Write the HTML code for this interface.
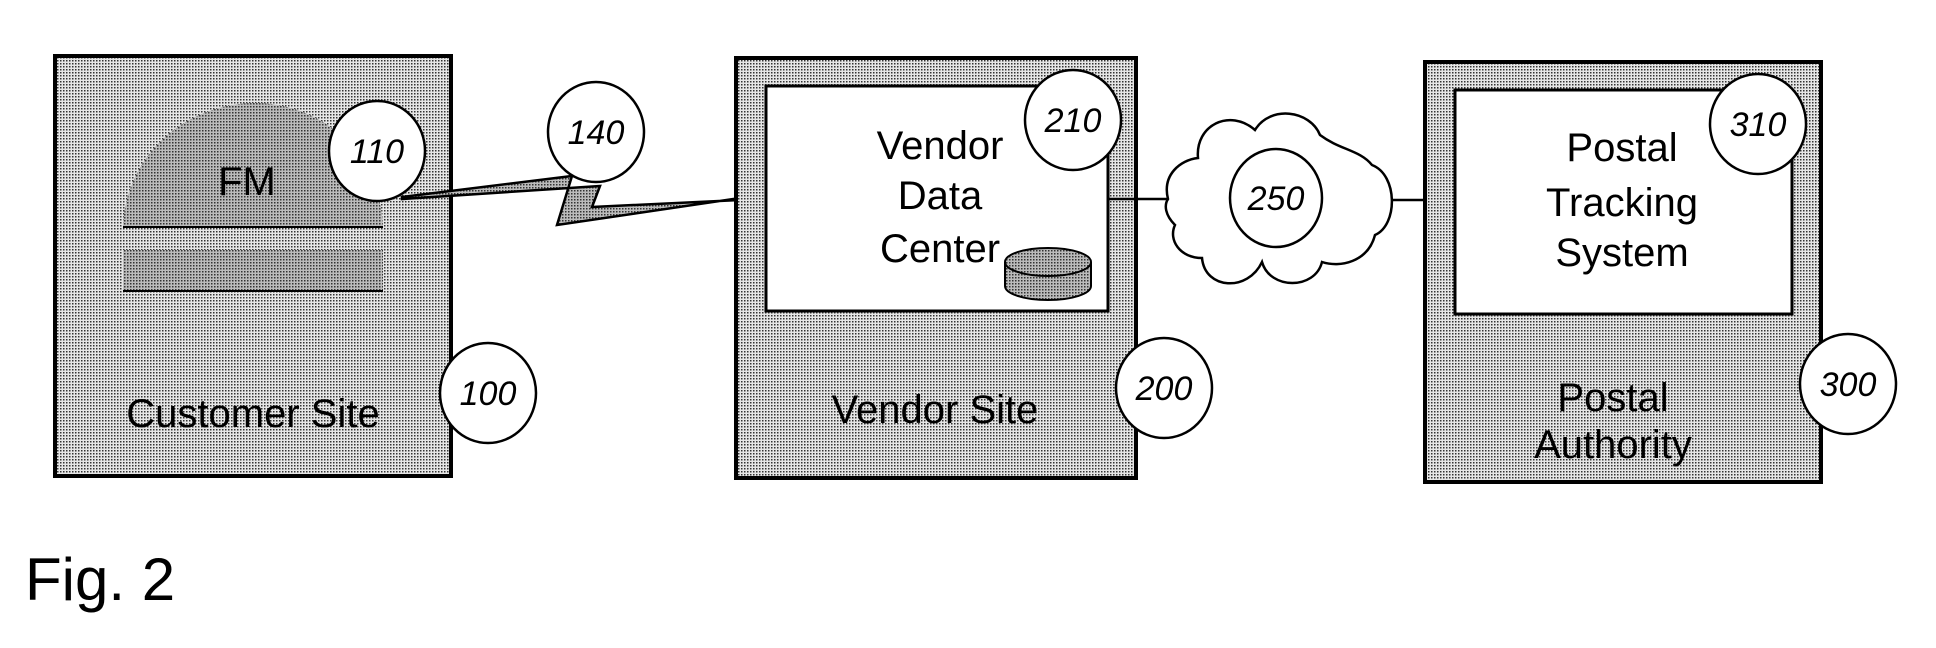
<!DOCTYPE html>
<html><head><meta charset="utf-8"><style>
html,body{margin:0;padding:0;background:#fff;}
svg{display:block;}
text{font-family:"Liberation Sans",sans-serif;fill:#000;}
.n{font-style:italic;font-size:34px;}
.l{font-size:40px;}
</style></head><body>
<svg width="1936" height="648" viewBox="0 0 1936 648" xmlns="http://www.w3.org/2000/svg">
<defs>
<pattern id="dots" width="3" height="3" patternUnits="userSpaceOnUse">
<rect width="3" height="3" fill="#e6e6e6"/><rect width="1.5" height="1.5" fill="#333"/>
</pattern>
<pattern id="fine" width="3" height="3" patternUnits="userSpaceOnUse">
<rect width="3" height="3" fill="#bbb"/><rect x="1" y="1" width="1.5" height="1.5" fill="#333"/>
</pattern>
</defs>

<!-- Customer site -->
<rect x="55" y="56" width="396" height="420" fill="url(#dots)" stroke="#000" stroke-width="4"/>
<path d="M123 227 C125 160 180 104 255 103 C330 104 380 160 383 227 Z" fill="url(#fine)"/>
<line x1="123" y1="227" x2="383" y2="227" stroke="#000" stroke-width="2"/>
<rect x="123" y="250" width="260" height="41" fill="url(#fine)"/>
<line x1="123" y1="291" x2="383" y2="291" stroke="#000" stroke-width="2"/>
<text x="247" y="195" class="l" text-anchor="middle">FM</text>
<text x="253" y="427" class="l" text-anchor="middle">Customer Site</text>
<ellipse cx="377" cy="151" rx="48" ry="50" fill="#fff" stroke="#000" stroke-width="2.5"/>
<text x="377" y="163" class="n" text-anchor="middle">110</text>
<ellipse cx="488" cy="393" rx="48" ry="50" fill="#fff" stroke="#000" stroke-width="2.5"/>
<text x="488" y="405" class="n" text-anchor="middle">100</text>

<!-- lightning -->
<polygon points="402,197 572,176 557,225 740,198 765,198 740,200 592,207 600,186 402,199" fill="url(#fine)" stroke="#000" stroke-width="2.5"/>
<ellipse cx="596" cy="132" rx="48" ry="50" fill="#fff" stroke="#000" stroke-width="2.5"/>
<text x="596" y="144" class="n" text-anchor="middle">140</text>

<!-- Vendor site -->
<rect x="736" y="58" width="400" height="420" fill="url(#dots)" stroke="#000" stroke-width="4"/>
<rect x="766" y="86" width="342" height="225" fill="#fff" stroke="#000" stroke-width="3"/>
<text x="940" y="159" class="l" text-anchor="middle">Vendor</text>
<text x="940" y="209" class="l" text-anchor="middle">Data</text>
<text x="940" y="262" class="l" text-anchor="middle">Center</text>
<path d="M1005 262 L1005 286 A43 14 0 0 0 1091 286 L1091 262" fill="url(#fine)" stroke="#000" stroke-width="2"/>
<ellipse cx="1048" cy="262" rx="43" ry="14" fill="url(#fine)" stroke="#000" stroke-width="2"/>
<ellipse cx="1073" cy="120" rx="48" ry="50" fill="#fff" stroke="#000" stroke-width="2.5"/>
<text x="1073" y="132" class="n" text-anchor="middle">210</text>
<text x="935" y="423" class="l" text-anchor="middle">Vendor Site</text>
<ellipse cx="1164" cy="388" rx="48" ry="50" fill="#fff" stroke="#000" stroke-width="2.5"/>
<text x="1164" y="400" class="n" text-anchor="middle">200</text>

<!-- cloud -->
<line x1="1108" y1="199" x2="1168" y2="199" stroke="#000" stroke-width="2.5"/>
<line x1="1393" y1="200" x2="1455" y2="200" stroke="#000" stroke-width="2.5"/>
<path d="M1168 199 C1162 175 1180 160 1198 158 C1195 125 1230 108 1255 130 C1270 105 1310 110 1320 135 C1340 150 1360 150 1372 165 C1398 175 1398 225 1375 235 C1368 262 1340 268 1322 262 C1315 290 1270 290 1262 262 C1248 292 1205 290 1202 258 C1180 258 1168 240 1175 225 C1165 215 1164 205 1168 199 Z" fill="#fff" stroke="#000" stroke-width="2.5"/>
<ellipse cx="1276" cy="198" rx="46" ry="49" fill="#fff" stroke="#000" stroke-width="2.5"/>
<text x="1276" y="210" class="n" text-anchor="middle">250</text>

<!-- Postal -->
<rect x="1425" y="62" width="396" height="420" fill="url(#dots)" stroke="#000" stroke-width="4"/>
<rect x="1455" y="90" width="337" height="224" fill="#fff" stroke="#000" stroke-width="3"/>
<text x="1622" y="161" class="l" text-anchor="middle">Postal</text>
<text x="1622" y="216" class="l" text-anchor="middle">Tracking</text>
<text x="1622" y="266" class="l" text-anchor="middle">System</text>
<ellipse cx="1758" cy="124" rx="48" ry="50" fill="#fff" stroke="#000" stroke-width="2.5"/>
<text x="1758" y="136" class="n" text-anchor="middle">310</text>
<text x="1613" y="411" class="l" text-anchor="middle">Postal</text>
<text x="1613" y="458" class="l" text-anchor="middle">Authority</text>
<ellipse cx="1848" cy="384" rx="48" ry="50" fill="#fff" stroke="#000" stroke-width="2.5"/>
<text x="1848" y="396" class="n" text-anchor="middle">300</text>

<text x="25" y="600" style="font-size:60px;">Fig. 2</text>
</svg>
</body></html>
